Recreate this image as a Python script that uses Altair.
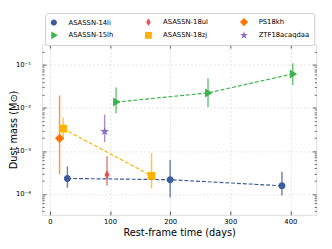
import altair as alt
import pandas as pd

# ---- data ----
names = ["ASASSN-14li", "ASASSN-14li", "ASASSN-14li",
         "ASASSN-15lh", "ASASSN-15lh", "ASASSN-15lh",
         "ASASSN-18ul", "PS18kh",
         "ASASSN-18zj", "ASASSN-18zj",
         "ZTF18acaqdaa"]
times = [29, 200, 386, 110, 263, 404, 95, 16, 22, 169, 91]
mass = [2.3e-4, 2.15e-4, 1.55e-4, 0.0137, 0.0224, 0.062, 2.8e-4, 1.97e-3, 3.3e-3, 2.65e-4, 2.85e-3]
mass_lo = [1.4e-4, 8.3e-5, 9.2e-5, 0.0075, 0.0105, 0.034, 1.55e-4, 2.9e-4, 1.85e-3, 1.35e-4, 1.6e-3]
mass_hi = [4.4e-4, 6.2e-4, 3.3e-4, 0.030, 0.049, 0.11, 7.5e-4, 0.0195, 5.9e-3, 8.9e-4, 7.0e-3]
connected = ["ASASSN-14li", "ASASSN-15lh", "ASASSN-18zj"]

# legend order (Vega fills legend columns first)
legend_order = ["ASASSN-14li", "ASASSN-15lh", "ASASSN-18ul",
                "ASASSN-18zj", "PS18kh", "ZTF18acaqdaa"]
colors = ["#3d5c9b", "#3bb44a", "#df5352", "#ffb300", "#ff7300", "#8f6bc4"]

circle = "M0,-0.9 A0.9,0.9 0 1,1 0,0.9 A0.9,0.9 0 1,1 0,-0.9 Z"
thin_diamond = "M0,-1.15 L0.65,0 L0,1.15 L-0.65,0 Z"
diamond = "M0,-1.2 L1.2,0 L0,1.2 L-1.2,0 Z"
tri_right = "M-0.75,-1.15 L1.15,0 L-0.75,1.15 Z"
square = "M-1,-1 L1,-1 L1,1 L-1,1 Z"
star = ("M0,-1.2 L0.27,-0.372 L1.141,-0.371 L0.437,0.142 L0.705,0.971 L0,0.46 "
        "L-0.705,0.971 L-0.437,0.142 L-1.141,-0.371 L-0.27,-0.372 Z")
shapes = [circle, tri_right, thin_diamond, square, diamond, star]

x_ticks = [0, 100, 200, 300, 400]
y_major = [1e-4, 1e-3, 1e-2, 1e-1]
y_minor = [m * 10.0 ** e for e in range(-5, 0) for m in range(2, 10)]
y_minor = [v for v in y_minor if 3.3e-5 <= v <= 0.3]

df = pd.DataFrame({"name": names, "t": times, "m": mass, "lo": mass_lo, "hi": mass_hi})

xs = alt.Scale(domain=[-13, 443], nice=False, zero=False)
ys = alt.Scale(type="log", domain=[3.28e-5, 0.305], nice=False)


def cscale():
    return alt.Scale(domain=legend_order, range=colors)


shape_scale = alt.Scale(domain=legend_order, range=shapes)

FONT = "DejaVu Sans"

x_main = alt.Axis(values=x_ticks, grid=True, gridDash=[2, 2], gridColor="#e3e3e3",
                  ticks=False, tickSize=0, domain=False, labelPadding=3,
                  labelFontSize=7, labelColor="black", title="Rest-frame time (days)",
                  titleFontSize=10, titleFontWeight="normal", titlePadding=3,
                  titleColor="black")
y_main = alt.Axis(values=y_major, grid=True, gridDash=[2, 2], gridColor="#e3e3e3",
                  ticks=False, tickSize=0, domain=False, labelPadding=12,
                  labelFontSize=7, labelColor="black",
                  labelExpr="datum.value >= 0.099 ? '10⁻¹' : datum.value >= 0.0099 ? '10⁻²' : datum.value >= 0.00099 ? '10⁻³' : '10⁻⁴'",
                  title="Dust mass (M⊙)", titleFontSize=10, titleFontWeight="normal",
                  titleX=-29.5, titleBaseline="middle", titleColor="black")

base = alt.Chart(df)

rules = base.mark_rule(strokeWidth=1.5, opacity=0.75).encode(
    x=alt.X("t:Q", scale=xs, axis=x_main),
    y=alt.Y("lo:Q", scale=ys, axis=y_main),
    y2="hi:Q",
    color=alt.Color("name:N", scale=cscale(), legend=None),
)

lines = base.transform_filter(
    alt.FieldOneOfPredicate(field="name", oneOf=connected)
).mark_line(strokeDash=[4, 2], strokeWidth=1.2).encode(
    x=alt.X("t:Q", scale=xs, axis=None),
    y=alt.Y("m:Q", scale=ys, axis=None),
    color=alt.Color("name:N", scale=cscale(), legend=None),
    detail="name:N",
    order="t:Q",
)

leg = alt.Legend(title=None, orient="none", legendX=3, legendY=-32,
                 columns=3, columnPadding=31, rowPadding=4,
                 symbolSize=50, labelFontSize=7, labelOffset=11,
                 labelColor="black", fillColor="white",
                 strokeColor="#cccccc", padding=5, cornerRadius=3,
                 symbolStrokeWidth=0)

points = base.mark_point(filled=True, opacity=1, size=64, strokeWidth=0).encode(
    x=alt.X("t:Q", scale=xs, axis=None),
    y=alt.Y("m:Q", scale=ys, axis=None),
    color=alt.Color("name:N", scale=cscale(), legend=leg),
    shape=alt.Shape("name:N", scale=shape_scale, legend=leg),
)


def tick_layer(xaxis=None, yaxis=None):
    return base.mark_point(opacity=0).encode(
        x=alt.X("t:Q", scale=xs, axis=xaxis),
        y=alt.Y("m:Q", scale=ys, axis=yaxis),
    )


def tick_axis(orient, values, size):
    return alt.Axis(orient=orient, values=values, offset=-size, tickSize=size,
                    ticks=True, labels=False, domain=False, grid=False, title=None,
                    tickColor="#333333", tickWidth=0.8)


layers = [
    rules, lines, points,
    tick_layer(xaxis=tick_axis("bottom", x_ticks, 4)),
    tick_layer(xaxis=tick_axis("top", x_ticks, 4)),
    tick_layer(yaxis=tick_axis("left", y_major, 4)),
    tick_layer(yaxis=tick_axis("left", y_minor, 2)),
    tick_layer(yaxis=tick_axis("right", y_major, 4)),
    tick_layer(yaxis=tick_axis("right", y_minor, 2)),
]

chart = alt.layer(*layers).resolve_axis(
    x="independent", y="independent"
).resolve_scale(color="independent", shape="independent").properties(
    width=281, height=175,
    autosize=alt.AutoSizeParams(type="none"),
    padding={"left": 35, "top": 34, "right": 8, "bottom": 32},
).configure_view(stroke="#333333", strokeWidth=1).configure(font=FONT)

chart.save("out.html", embed_options={"renderer": "svg", "actions": False})
